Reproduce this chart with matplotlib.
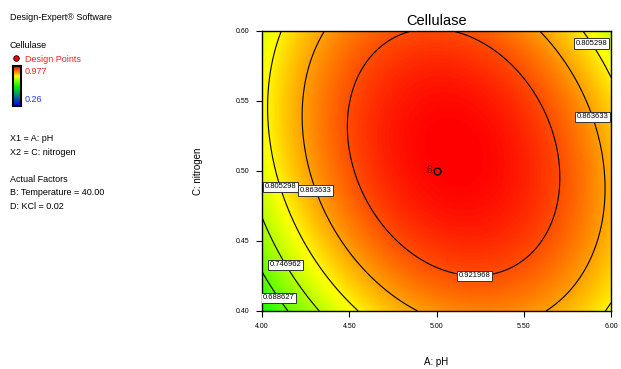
"""
Design-Expert 风格等高线图：Cellulase 对 A: pH 与 C: nitrogen 的响应面
"""
import numpy as np
import matplotlib
matplotlib.use("Agg")
import matplotlib.pyplot as plt
from matplotlib.colors import LinearSegmentedColormap
from matplotlib.lines import Line2D

# 坐标范围与刻度
ph_range = [4.00, 6.00]
nitrogen_range = [0.40, 0.60]
ph_ticks = [4.00, 4.50, 5.00, 5.50, 6.00]
nitrogen_ticks = [0.40, 0.45, 0.50, 0.55, 0.60]

# 二次模型系数（编码变量 A, C，按图中等高线估计）
b0 = 0.9750
b_a = 0.0373
b_c = 0.0248
b_ac = -0.0454
b_aa = -0.1593
b_cc = -0.0758

# 等高线值
contour_levels = [0.688627, 0.746962, 0.805298, 0.863633, 0.921968]
# 等高线标签位置 (pH, nitrogen)
label_positions = [(4.10, 0.410), (4.15, 0.434), (4.11, 0.489), (4.31, 0.486),
                   (5.22, 0.428), (5.90, 0.539), (5.90, 0.592)]

# 设计点
design_ph = [5.00]
design_nitrogen = [0.50]
design_count = ["6"]

color_low, color_high = 0.26, 0.977

plt.rcParams["font.family"] = ["Liberation Sans", "DejaVu Sans"]

cmap = LinearSegmentedColormap.from_list(
    "de", [(0.0, "#0000ff"), (0.5, "#00ff00"), (0.75, "#ffff00"), (1.0, "#ff0000")])

ph = np.linspace(ph_range[0], ph_range[1], 300)
nit = np.linspace(nitrogen_range[0], nitrogen_range[1], 300)
P, N = np.meshgrid(ph, nit)
A = (P - 5.0) / 1.0
C = (N - 0.5) / 0.1
Z = b0 + b_a * A + b_c * C + b_ac * A * C + b_aa * A * A + b_cc * C * C

fig = plt.figure(figsize=(6.21, 3.69), dpi=100)
ax = fig.add_axes([0.4219, 0.1572, 0.562, 0.759])

ax.imshow(Z, origin="lower", extent=[ph_range[0], ph_range[1], nitrogen_range[0], nitrogen_range[1]],
          aspect="auto", cmap=cmap, vmin=color_low, vmax=color_high, interpolation="bilinear")
cs = ax.contour(P, N, Z, levels=contour_levels, colors="black", linewidths=0.8)
labels = ax.clabel(cs, fmt="%.6f", fontsize=5.5, inline=False, manual=label_positions)
for t in labels:
    t.set_rotation(0)
    t.set_bbox(dict(facecolor="white", edgecolor="#333333", linewidth=0.7, pad=1.2))

ax.plot(design_ph, design_nitrogen, "o", ms=5, mfc="none", mec="black", mew=1)
for x, y, s in zip(design_ph, design_nitrogen, design_count):
    ax.annotate(s, (x, y), xytext=(-3.5, 0.5), textcoords="offset points",
                ha="right", va="center", fontsize=7, color="#500000")

ax.set_xlim(ph_range)
ax.set_ylim(nitrogen_range)
ax.set_xticks(ph_ticks)
ax.set_yticks(nitrogen_ticks)
ax.set_xticklabels([f"{v:.2f}" for v in ph_ticks])
ax.set_yticklabels([f"{v:.2f}" for v in nitrogen_ticks])
ax.tick_params(direction="out", length=4, width=0.8, labelsize=5, pad=5)
for sp in ax.spines.values():
    sp.set_linewidth(1)
ax.set_title("Cellulase", fontsize=10.5, pad=4)
ax.set_xlabel("A: pH", fontsize=7, labelpad=19)
ax.set_ylabel("C: nitrogen", fontsize=7, labelpad=24)

# 左侧信息栏
def ftext(x, y, s, **kw):
    fig.text(x / 621, 1 - y / 369, s, fontsize=6.5, va="center", ha="left", **kw)

ftext(10, 18, "Design-Expert® Software")
ftext(10, 45, "Cellulase")
ftext(25, 59, "Design Points", color="#ff2020")
ftext(25, 72, "0.977", color="#ff2020")
ftext(25, 99, "0.26", color="#3030ff")
ftext(10, 139, "X1 = A: pH")
ftext(10, 153, "X2 = C: nitrogen")
ftext(10, 180, "Actual Factors")
ftext(10, 193, "B: Temperature = 40.00")
ftext(10, 206, "D: KCl = 0.02")

fig.add_artist(Line2D([16 / 621], [1 - 58 / 369], transform=fig.transFigure, marker="o",
                      ms=4, mfc="#ff0000", mec="black", mew=0.6))

cax = fig.add_axes([13 / 621, 1 - 106 / 369, 8 / 621, 40 / 369])
cax.imshow(np.linspace(0, 1, 100).reshape(-1, 1), origin="lower", aspect="auto", cmap=cmap)
cax.set_xticks([])
cax.set_yticks([])
for sp in cax.spines.values():
    sp.set_linewidth(1.5)

fig.savefig("out.png", dpi=100)
